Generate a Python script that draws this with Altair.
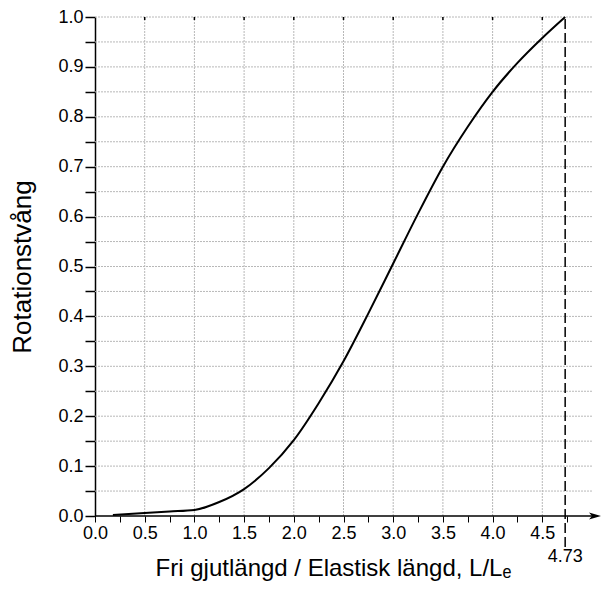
import altair as alt
import pandas as pd

# Curve
curve_x = [0.18, 0.5, 0.75, 1.0, 1.25, 1.5, 1.75, 2.0, 2.25, 2.5, 2.75, 3.0,
           3.25, 3.5, 3.75, 4.0, 4.25, 4.5, 4.73]
curve_y = [0.002, 0.006, 0.009, 0.012, 0.028, 0.054, 0.096, 0.152, 0.226, 0.310,
           0.406, 0.506, 0.606, 0.700, 0.780, 0.850, 0.908, 0.958, 1.0]

x_ticks = [0.0, 0.25, 0.5, 0.75, 1.0, 1.25, 1.5, 1.75, 2.0, 2.25, 2.5, 2.75,
           3.0, 3.25, 3.5, 3.75, 4.0, 4.25, 4.5, 4.75]
y_ticks = [0.0, 0.05, 0.1, 0.15, 0.2, 0.25, 0.3, 0.35, 0.4, 0.45, 0.5, 0.55,
           0.6, 0.65, 0.7, 0.75, 0.8, 0.85, 0.9, 0.95, 1.0]
grid_x = [0.5, 1.0, 1.5, 2.0, 2.5, 3.0, 3.5, 4.0, 4.5]
grid_y = [0.05, 0.1, 0.15, 0.2, 0.25, 0.3, 0.35, 0.4, 0.45, 0.5, 0.55, 0.6,
          0.65, 0.7, 0.75, 0.8, 0.85, 0.9, 0.95, 1.0]
x_domain = [0.0, 5.0]
y_domain = [0.0, 1.0]
marker_x = [4.73]
marker_label = ["4.73"]
marker_bottom = [-0.062]
marker_label_y = [-0.082]
arrow_end = [5.03]

FONT = "Liberation Sans"
xs = alt.Scale(domain=x_domain, nice=False)
ys = alt.Scale(domain=y_domain, nice=False)

x_axis = alt.Axis(
    values=x_ticks,
    labelExpr="(round(datum.value*100) % 50 == 0) ? format(datum.value, '.1f') : ''",
    tickSize=6, tickWidth=1, tickColor="black", domain=False, grid=False,
    labelFlush=False, labelOverlap=False,
    labelPadding=2, labelFontSize=18, labelFont=FONT, labelColor="black",
    title="Fri gjutlängd / Elastisk längd, L/Lₑ", titleFont=FONT, titleFontSize=24,
    titleFontWeight="normal", titleColor="black", titlePadding=14, titleX=238)
y_axis = alt.Axis(
    values=y_ticks,
    labelExpr="(round(datum.value*100) % 10 == 0) ? format(datum.value, '.1f') : ''",
    tickSize=10, tickWidth=1.5, tickColor="black", domain=True, domainColor="black",
    domainWidth=1.5, grid=False, labelFlush=False, labelOverlap=False,
    labelPadding=2, labelFontSize=18, labelFont=FONT, labelColor="black",
    title="Rotationstvång", titleFont=FONT, titleFontSize=26,
    titleFontWeight="normal", titleColor="black", titlePadding=22)

X = lambda f: alt.X(f, type="quantitative", scale=xs, axis=x_axis)
Y = lambda f: alt.Y(f, type="quantitative", scale=ys, axis=y_axis)

curve_df = pd.DataFrame({"x": curve_x, "y": curve_y})
hgrid_df = pd.DataFrame({"y": grid_y, "x": [x_domain[0]] * len(grid_y), "x2": [x_domain[1]] * len(grid_y)})
vgrid_df = pd.DataFrame({"x": grid_x, "y": [y_domain[0]] * len(grid_x), "y2": [y_domain[1]] * len(grid_x)})
top_df = pd.DataFrame({"x": grid_x, "y": [1.0] * len(grid_x), "y2": [0.994] * len(grid_x)})
axis_df = pd.DataFrame({"x": [0.0], "x2": arrow_end, "y": [0.0]})
arrow_df = pd.DataFrame({"x": arrow_end, "y": [0.0]})
dash_df = pd.DataFrame({"x": marker_x, "y": marker_bottom, "y2": [1.0]})
label_df = pd.DataFrame({"x": marker_x, "y": marker_label_y, "t": marker_label})

grid_color = "#b8b8b8"

hgrid = alt.Chart(hgrid_df).mark_rule(color=grid_color, strokeDash=[2, 1], strokeWidth=1).encode(
    x=X("x"), x2="x2", y=Y("y"))
vgrid = alt.Chart(vgrid_df).mark_rule(color=grid_color, strokeDash=[2, 1], strokeWidth=1).encode(
    x=X("x"), y=Y("y"), y2="y2")
topdots = alt.Chart(top_df).mark_rule(color="black", strokeWidth=1.5).encode(
    x=X("x"), y=Y("y"), y2="y2")
xaxis_line = alt.Chart(axis_df).mark_rule(color="black", strokeWidth=1.5).encode(
    x=X("x"), x2="x2", y=Y("y"))
arrow = alt.Chart(arrow_df).mark_point(
    shape="M1,0L-1,-0.6L-0.5,0L-1,0.6Z", filled=True, color="black", size=144, opacity=1
).encode(x=X("x"), y=Y("y"))
dash = alt.Chart(dash_df).mark_rule(color="black", strokeWidth=1.5, strokeDash=[10, 4]).encode(
    x=X("x"), y=Y("y"), y2="y2")
label = alt.Chart(label_df).mark_text(font=FONT, fontSize=18, color="black", baseline="middle", align="center").encode(
    x=X("x"), y=Y("y"), text="t")
curve = alt.Chart(curve_df).mark_line(color="black", strokeWidth=2, interpolate="monotone").encode(
    x=X("x"), y=Y("y"))

chart = alt.layer(hgrid, vgrid, topdots, xaxis_line, arrow, dash, curve, label).properties(
    width=497, height=499,
    autosize=alt.AutoSizeParams(type="none"),
    padding={"left": 87, "top": 9, "right": 11, "bottom": 67},
).configure_view(stroke=None)

chart.save("out.html", embed_options={"renderer": "svg", "actions": False})
